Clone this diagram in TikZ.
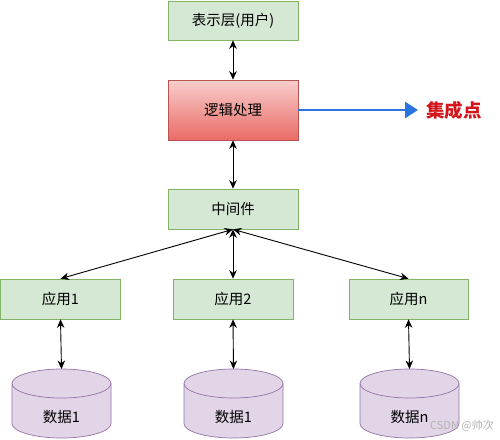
\documentclass[tikz,border=0pt]{standalone}
\usepackage{fontspec}
\setmainfont{Noto Sans CJK SC}
\usetikzlibrary{arrows.meta}
\definecolor{gfill}{HTML}{D5E8D4}
\definecolor{gline}{HTML}{82B366}
\definecolor{pfill}{HTML}{E1D5E7}
\definecolor{pline}{HTML}{9673A6}
\definecolor{rtop}{HTML}{F8CECC}
\definecolor{rbot}{HTML}{EA6B66}
\definecolor{rline}{HTML}{B85450}
\definecolor{bluearr}{HTML}{2B74E0}
\definecolor{redtxt}{HTML}{D2161B}
\tikzset{
  gbox/.style={draw=gline, fill=gfill, line width=0.7pt, minimum width=120pt, minimum height=40pt, font=\fontsize{14.5}{16}\selectfont, inner sep=0pt},
  dbl/.style={{Stealth[length=8.5pt,width=7.5pt]}-{Stealth[length=8.5pt,width=7.5pt]}, line width=0.9pt, black},
  cyltxt/.style={font=\fontsize{14.5}{16}\selectfont, inner sep=0pt},
}
\newcommand\dbcyl[3]{%
  \path[draw=pline, fill=pfill, line width=0.7pt]
    (#2-49.5,-383.5) -- (#2-49.5,-423.5)
    arc[start angle=180, end angle=360, x radius=49.5, y radius=14.5]
    -- (#2+49.5,-383.5)
    arc[start angle=0, end angle=180, x radius=49.5, y radius=14.5] -- cycle;
  \draw[pline, line width=0.7pt] (#2-49.5,-383.5)
    arc[start angle=180, end angle=360, x radius=49.5, y radius=14.5];
  \coordinate (#1top) at (#2,-369);
  \node[cyltxt] (#1) at (#2,-417) {#3};
}
\begin{document}
\begin{tikzpicture}[x=1pt,y=1pt]
\useasboundingbox (0,0) rectangle (500,-439);
\node[gbox, minimum width=130pt, minimum height=39pt] (pres) at (233,-20.5) {表示层(用户)};
\node[draw=rline, top color=rtop, bottom color=rbot, line width=0.7pt, minimum width=130pt, minimum height=60pt, font=\fontsize{14.5}{16}\selectfont] (logic) at (233,-110) {逻辑处理};
\node[gbox, minimum width=130pt] (mid) at (233,-209) {中间件};
\node[gbox] (app1) at (60.5,-299) {应用1};
\node[gbox] (app2) at (233,-299) {应用2};
\node[gbox, minimum width=119pt] (appn) at (408.5,-299) {应用n};
\dbcyl{db1}{61.5}{数据1}
\dbcyl{db2}{233.5}{数据1}
\dbcyl{dbn}{409.5}{数据n}
\node[font=\bfseries\fontsize{18.5}{20}\selectfont, text=redtxt, inner sep=0pt] (ip) at (454,-110) {集成点};
\coordinate (bluetip) at (418,-110);
\draw[bluearr, line width=2.8pt, -{Triangle[length=13pt,width=16pt]}] (logic.east) -- (bluetip);
\draw[dbl] (pres.south) -- (logic.north);
\draw[dbl] (logic.south) -- (mid.north);
\draw[dbl] (mid.south) -- (app1.north);
\draw[dbl] (mid.south) -- (app2.north);
\draw[dbl] (mid.south) -- (appn.north);
\draw[dbl] (app1.south) -- (db1top);
\draw[dbl] (app2.south) -- (db2top);
\draw[dbl] (appn.south) -- (dbntop);
\node[text=black!30, font=\fontsize{11}{12}\selectfont, inner sep=0pt, anchor=west] (wm) at (430,-426) {CSDN @帅次};
\end{tikzpicture}
\end{document}
